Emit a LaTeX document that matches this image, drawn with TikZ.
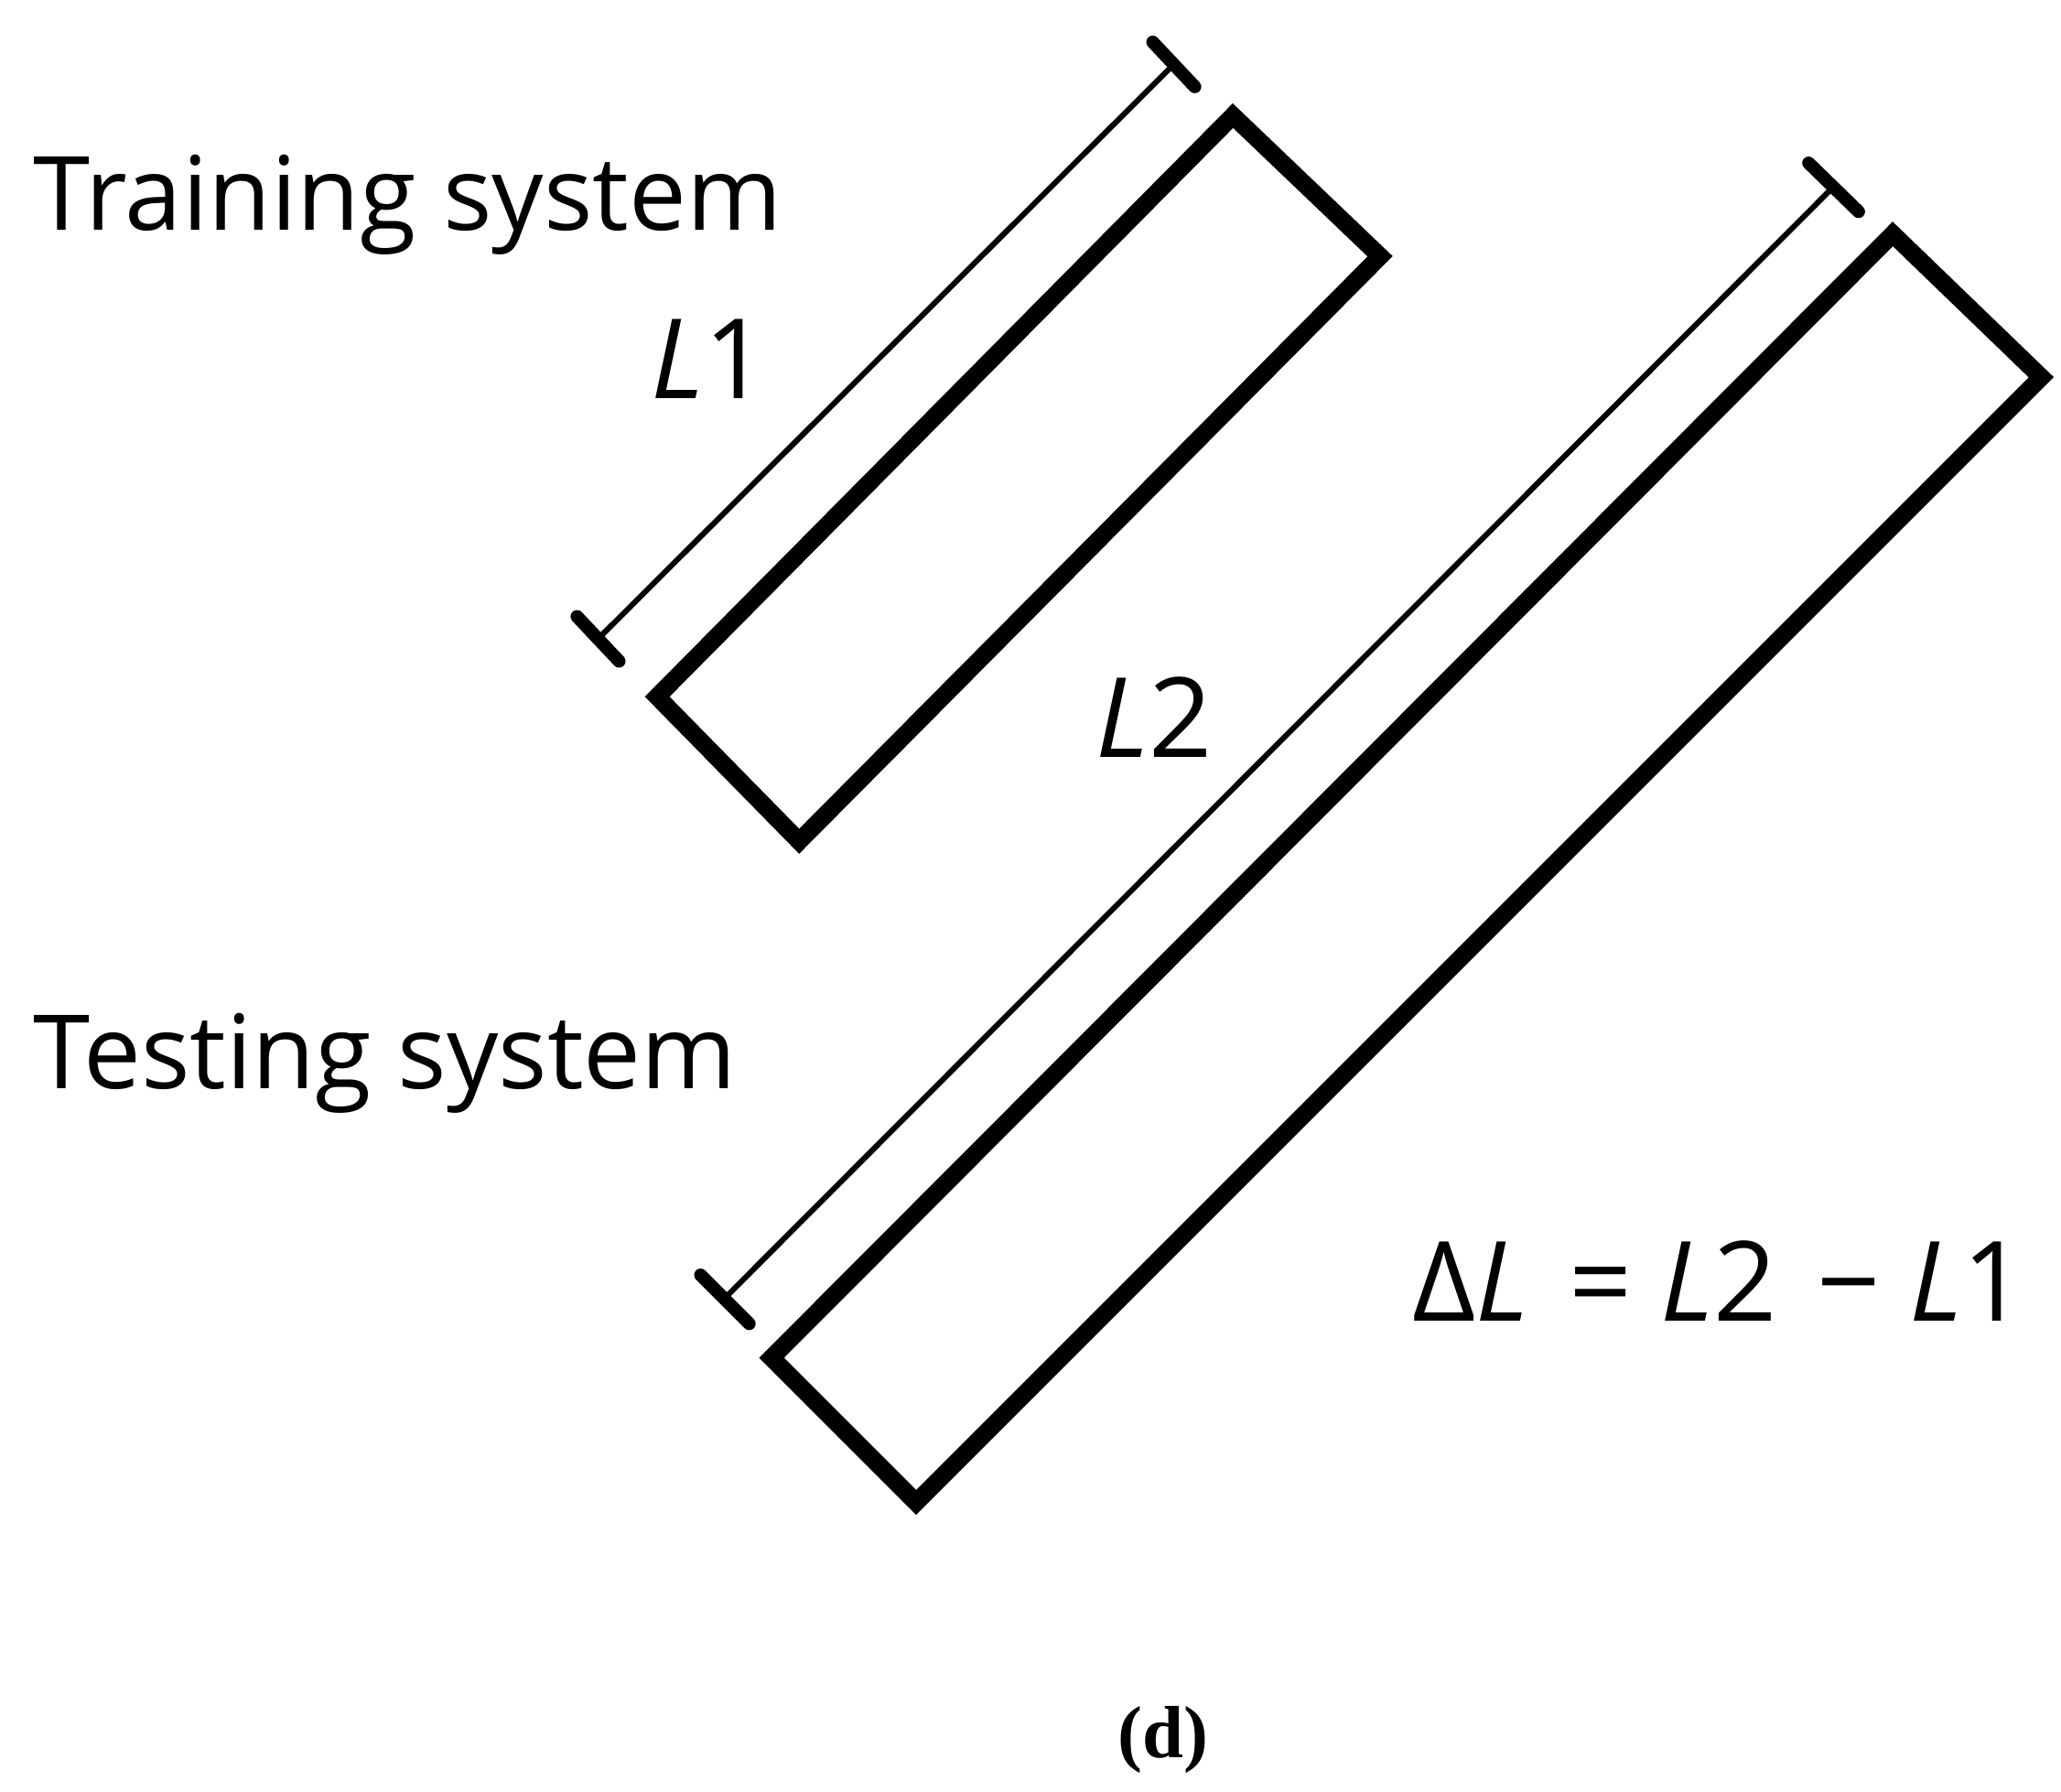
\documentclass[tikz,border=0pt]{standalone}
\usepackage{fontspec}
\setmainfont{Open Sans}
\newfontfamily\serifd{Liberation Serif}
\begin{document}
\begin{tikzpicture}[x=0.01cm,y=-0.01cm,
  bar/.style={line width=3.8pt,line join=miter},
  dim/.style={line width=1.2pt},
  tick/.style={line width=2.8pt,line cap=round},
  lbl/.style={font=\fontsize{22.2}{26}\selectfont,inner sep=0pt},
  ital/.style={font=\fontsize{24}{28}\selectfont\itshape,inner sep=0pt}]
\useasboundingbox (0,0) rectangle (1568,1363);
\draw[bar] (938,88) -- (1050,195) -- (608,640) -- (500,530) -- cycle;
\draw[bar] (1440,178) -- (1553,287) -- (697,1143) -- (587,1033) -- cycle;
\coordinate (a1) at (893,49); \coordinate (b1) at (455,486);
\draw[dim] (a1) -- (b1);
\draw[tick] (877,32) -- (909,66);
\draw[tick] (439,469) -- (471,503);
\coordinate (a2) at (1395,142); \coordinate (b2) at (551,988);
\draw[dim] (a2) -- (b2);
\draw[tick] (1376,124) -- (1414,161);
\draw[tick] (533,970) -- (570,1007);
\node[lbl,anchor=base west] (train) at (25,175) {Training system};
\node[lbl,anchor=base west] (test) at (25,828) {Testing system};
\node[ital,anchor=base] (l1) at (540,303) {L\upshape 1};
\node[ital,anchor=base] (l2) at (878,576) {L\upshape 2};
\node[font=\fontsize{24}{28}\selectfont,inner sep=0pt,anchor=base] (dl) at (1308,1005) {Δ\textit{L}\hspace{0.1em} = \textit{L}2\hspace{0.1em} − \textit{L}1};
\node[font=\fontsize{16}{19}\selectfont\serifd\bfseries,anchor=base] (d) at (885,1337) {(d)};
\end{tikzpicture}
\end{document}
